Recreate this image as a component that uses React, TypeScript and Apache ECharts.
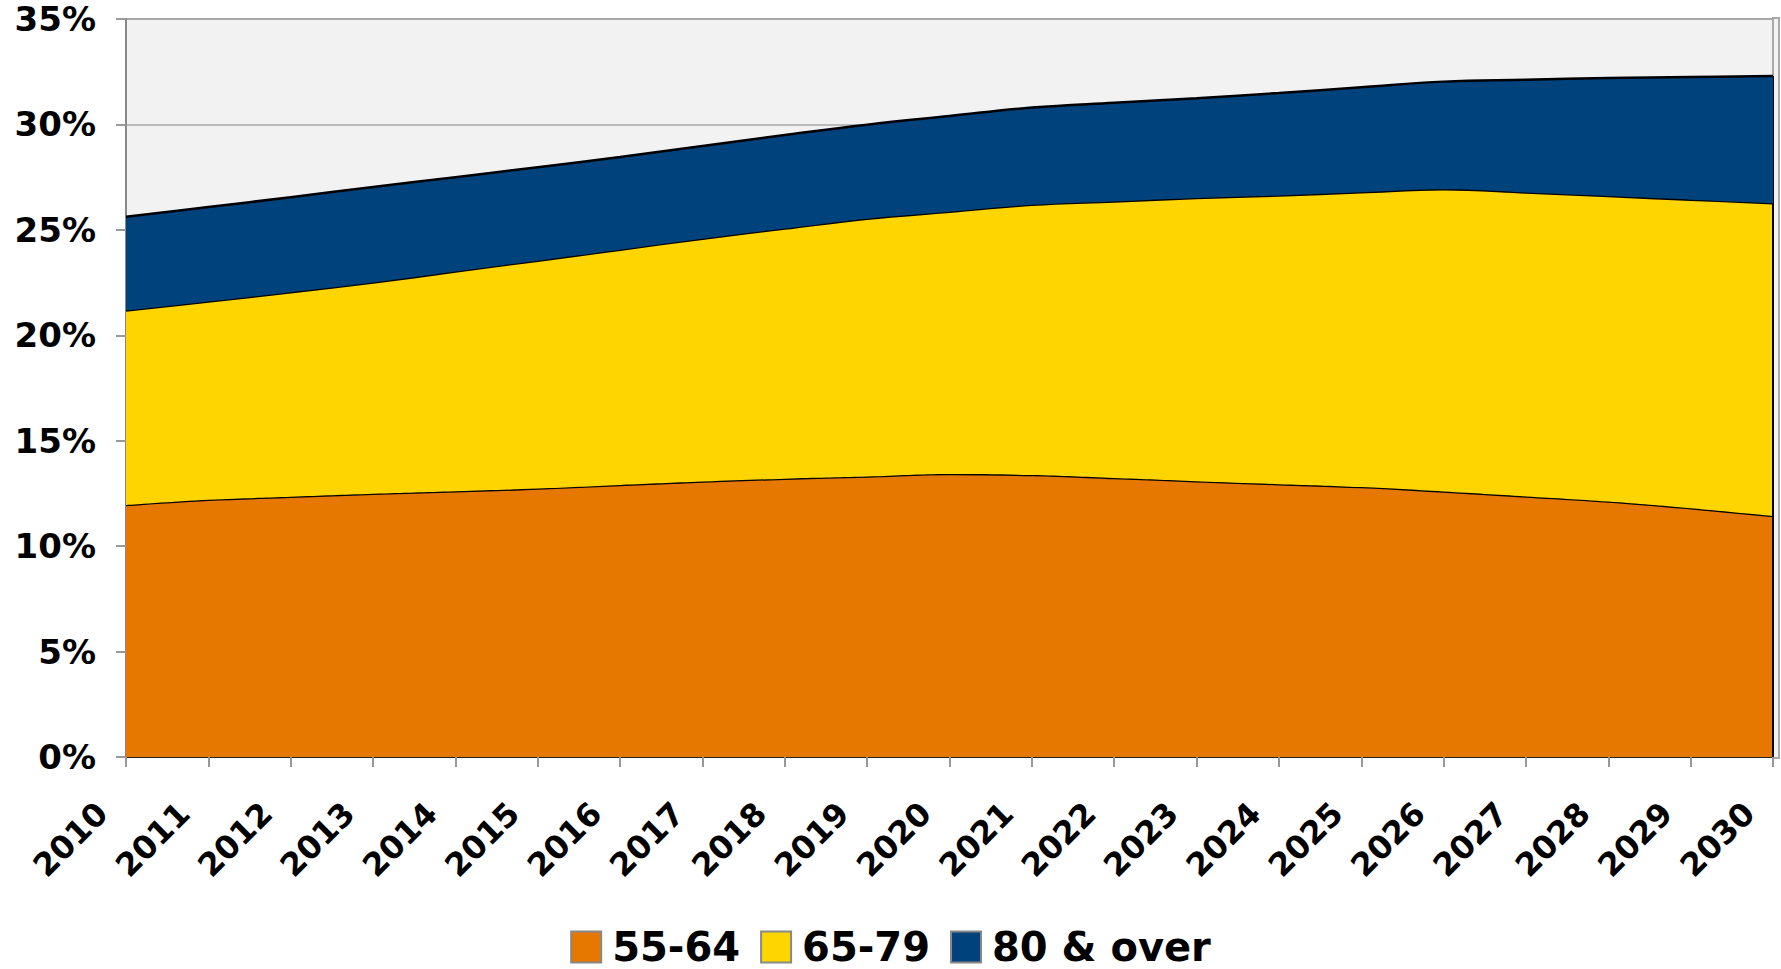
import React, { useEffect, useRef } from "react";
import * as echarts from "echarts";

const years = ["2010", "2011", "2012", "2013", "2014", "2015", "2016", "2017", "2018", "2019", "2020", "2021", "2022", "2023", "2024", "2025", "2026", "2027", "2028", "2029", "2030"];
const ages5564 = [11.95, 12.2, 12.34, 12.48, 12.6, 12.73, 12.9, 13.06, 13.2, 13.3, 13.42, 13.37, 13.23, 13.08, 12.94, 12.8, 12.59, 12.36, 12.12, 11.8, 11.43];
const ages6579 = [9.22, 9.4, 9.7, 10.02, 10.42, 10.81, 11.16, 11.52, 11.86, 12.23, 12.44, 12.82, 13.12, 13.43, 13.69, 13.98, 14.33, 14.41, 14.48, 14.63, 14.83];
const ages80plus = [4.45, 4.48, 4.51, 4.53, 4.48, 4.43, 4.39, 4.4, 4.44, 4.46, 4.54, 4.61, 4.68, 4.73, 4.86, 4.98, 5.11, 5.35, 5.6, 5.82, 6.04];
const seriesNames = ["55-64", "65-79", "80 & over"];
const seriesColors = ["#e67800", "#ffd500", "#00437c"];
const yTicks = [0, 5, 10, 15, 20, 25, 30, 35];

const FONT = "DejaVu Sans";

export default function App() {
  const ref = useRef<HTMLDivElement>(null);
  useEffect(() => {
    if (!ref.current) return;
    const chart = echarts.init(ref.current, undefined, { renderer: "svg" });
    const values = [ages5564, ages6579, ages80plus];
    const areaSeries = values.map((vals, i) => ({
      name: seriesNames[i],
      type: "line",
      stack: "total",
      smooth: 0.4,
      symbol: "none",
      data: vals,
      lineStyle: { color: "#000", width: 2.5 },
      itemStyle: { color: seriesColors[i], borderColor: "#888", borderWidth: 1 },
      areaStyle: { color: seriesColors[i], opacity: 1 },
      z: 3 + i,
    }));
    // right edge outline of the stacked areas (total of last year)
    const n = years.length - 1;
    const totalLast = ages5564[n] + ages6579[n] + ages80plus[n];
    const edgeSeries = {
      type: "line",
      symbol: "none",
      silent: true,
      data: [],
      lineStyle: { color: "#000", width: 2 },
      markLine: {
        silent: true,
        symbol: "none",
        label: { show: false },
        lineStyle: { color: "#000", width: 2, type: "solid" },
        data: [[{ coord: [years[n], 0] }, { coord: [years[n], totalLast] }]],
      },
      z: 8,
    };
    chart.setOption({
      animation: false,
      grid: {
        left: 126,
        right: 8,
        top: 19,
        bottom: 212,
        show: true,
        backgroundColor: "#f2f2f2",
        borderColor: "#a8a8a8",
        borderWidth: 2,
      },
      graphic: [
        {
          type: "rect",
          z: -1,
          shape: { x: 1773, y: 18, width: 6, height: 740 },
          style: { fill: "#f2f2f2", stroke: "#a8a8a8", lineWidth: 2 },
        },
      ],
      legend: {
        data: seriesNames,
        top: 922,
        left: "center",
        itemWidth: 30,
        itemHeight: 31,
        itemGap: 20,
        icon: "rect",
        textStyle: {
          fontFamily: FONT,
          fontWeight: "bold",
          fontSize: 40,
          color: "#000",
          padding: [0, 0, 0, 6],
        },
      },
      xAxis: {
        type: "category",
        data: years,
        boundaryGap: false,
        axisLine: { show: true, lineStyle: { color: "#222", width: 2 } },
        axisTick: { show: true, inside: false, length: 10, alignWithLabel: true, lineStyle: { color: "#999", width: 2 } },
        splitLine: { show: false },
        axisLabel: {
          rotate: 45,
          margin: 27,
          interval: 0,
          padding: [0, 34, 0, 0],
          fontFamily: FONT,
          fontWeight: "bold",
          fontSize: 32,
          color: "#000",
        },
      },
      yAxis: {
        type: "value",
        min: yTicks[0],
        max: yTicks[yTicks.length - 1],
        interval: 5,
        axisLine: { show: true, lineStyle: { color: "#888", width: 2 } },
        axisTick: { show: true, inside: false, length: 10, lineStyle: { color: "#999", width: 2 } },
        splitLine: { show: true, lineStyle: { color: "#a8a8a8", width: 1.5 } },
        axisLabel: {
          margin: 30,
          formatter: "{value}%",
          fontFamily: FONT,
          fontWeight: "bold",
          fontSize: 34,
          color: "#000",
        },
      },
      series: [...areaSeries, edgeSeries],
    });
    return () => chart.dispose();
  }, []);
  return (
    <div
      ref={ref}
      style={{ position: "absolute", left: 0, top: 0, width: 1781, height: 969 }}
    />
  );
}
